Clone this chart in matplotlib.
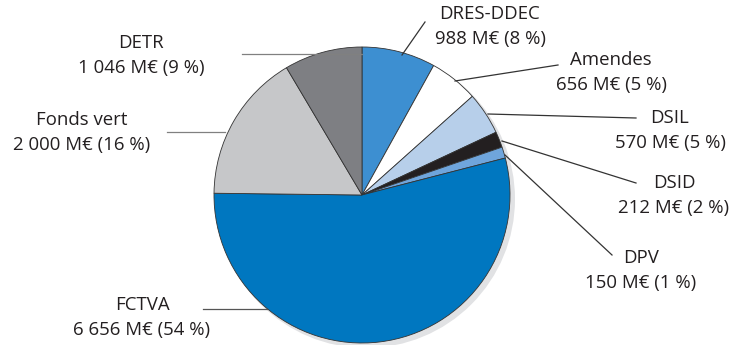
import matplotlib
matplotlib.use("Agg")
import matplotlib.pyplot as plt
from matplotlib.patches import Circle

# ── Données ───────────────────────────────────────────────────────────────────
labels = ["DRES-DDEC", "Amendes", "DSIL", "DSID", "DPV", "FCTVA", "Fonds vert", "DETR"]
values = [988, 656, 570, 212, 150, 6656, 2000, 1046]
colors = ["#3d8fd1", "#ffffff", "#b7cfea", "#231f20", "#6fa5dc", "#0077c0", "#c6c7c9", "#7e7f83"]

plt.rcParams["font.family"] = ["Open Sans", "DejaVu Sans"]

W, H = 737, 345
fig = plt.figure(figsize=(W / 100, H / 100), dpi=100)
ax = fig.add_axes([0, 0, 1, 1])
ax.axis("off")

cx, cy, r = 362, H - 195, 148

# ombre
ax.add_patch(Circle((cx + 4, cy - 4), r + 1, color="#e1e2e4", zorder=0, lw=0))

ax.pie(values, center=(cx, cy), radius=r, startangle=90, counterclock=False,
       colors=colors, wedgeprops=dict(edgecolor="#333333", linewidth=0.6))

ax.set_xlim(0, W)
ax.set_ylim(0, H)
ax.set_aspect("auto")

total = sum(values)

def fmt(v):
    return f"{v:,}".replace(",", " ") + f" M€ ({round(v / total * 100)} %)"

# position texte (centre, y ligne 1) et trait de rappel (pixels, y vers le bas)
layout = {
    "DRES-DDEC":  ((490, 14),  [(425, 22), (402, 55)], "#333333"),
    "Amendes":    ((611, 60),  [(558, 65), (455, 81)], "#333333"),
    "DSIL":       ((670, 118), [(636, 118), (488, 114)], "#333333"),
    "DSID":       ((674, 183), [(636, 183), (502, 141)], "#333333"),
    "DPV":        ((641, 258), [(612, 255), (505, 155)], "#333333"),
    "FCTVA":      ((142, 305), [(203, 309), (267, 309)], "#555555"),
    "Fonds vert": ((82, 120),  [(167, 132), (225, 132)], "#808080"),
    "DETR":       ((141, 43),  [(242, 54), (362, 54)], "#808080"),
}

for lab, v in zip(labels, values):
    (tx, ty), pts, lc = layout[lab]
    ax.text(tx, H - ty, lab, ha="center", va="center", fontsize=13.4, color="#231f20")
    ax.text(tx, H - ty - 25, fmt(v), ha="center", va="center", fontsize=13.4, color="#231f20")
    ax.plot([p[0] for p in pts], [H - p[1] for p in pts], color=lc, lw=0.9, zorder=3)

fig.savefig("out.png", dpi=100)
